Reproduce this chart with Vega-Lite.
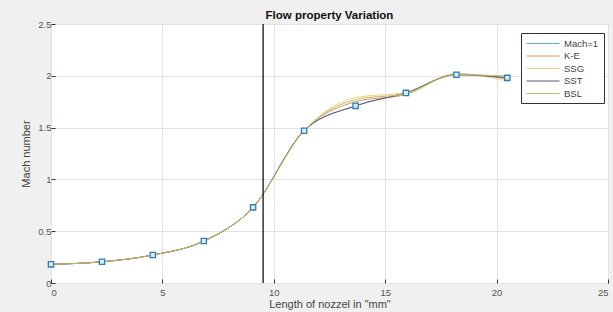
{
  "$schema": "https://vega.github.io/schema/vega-lite/v6.json",
  "width": 557,
  "height": 259,
  "autosize": {"type": "none"},
  "padding": {"left": 51, "top": 24, "right": 5, "bottom": 29},
  "background": "#f0f0f0",
  "config": {
    "font": "Liberation Sans",
    "view": {"fill": "white", "stroke": "#333333", "strokeWidth": 1},
    "axis": {
      "grid": true, "gridColor": "#e3e3e3", "gridWidth": 1,
      "domain": false, "ticks": true, "tickSize": -4, "tickColor": "#333333",
      "labelFont": "Liberation Sans", "labelFontSize": 9.5, "labelColor": "#555555", "labelPadding": 4,
      "titleFont": "Liberation Sans", "titleFontSize": 11, "titleFontWeight": "normal", "titleColor": "#444444"
    },
    "title": {"font": "Liberation Sans", "fontSize": 11.5, "fontWeight": "bold", "color": "#111111", "offset": -2}
  },
  "title": {"text": "Flow property Variation", "anchor": "middle"},
  "datasets": {
    "curves": [
      {"series": "Mach=1", "x": 0, "y": 0.18},
      {"series": "Mach=1", "x": 2.29, "y": 0.205},
      {"series": "Mach=1", "x": 4.57, "y": 0.27},
      {"series": "Mach=1", "x": 6.86, "y": 0.405},
      {"series": "Mach=1", "x": 9.07, "y": 0.73},
      {"series": "Mach=1", "x": 11.36, "y": 1.47},
      {"series": "Mach=1", "x": 13.67, "y": 1.71},
      {"series": "Mach=1", "x": 15.93, "y": 1.835},
      {"series": "Mach=1", "x": 18.2, "y": 2.01},
      {"series": "Mach=1", "x": 20.48, "y": 1.98},
      {"series": "K-E", "x": 0, "y": 0.18},
      {"series": "K-E", "x": 2.29, "y": 0.205},
      {"series": "K-E", "x": 4.57, "y": 0.27},
      {"series": "K-E", "x": 6.86, "y": 0.405},
      {"series": "K-E", "x": 9.07, "y": 0.73},
      {"series": "K-E", "x": 11.36, "y": 1.47},
      {"series": "K-E", "x": 13.67, "y": 1.75},
      {"series": "K-E", "x": 15.93, "y": 1.82},
      {"series": "K-E", "x": 18.2, "y": 2.02},
      {"series": "K-E", "x": 20.48, "y": 1.97},
      {"series": "SSG", "x": 0, "y": 0.18},
      {"series": "SSG", "x": 2.29, "y": 0.205},
      {"series": "SSG", "x": 4.57, "y": 0.27},
      {"series": "SSG", "x": 6.86, "y": 0.405},
      {"series": "SSG", "x": 9.07, "y": 0.73},
      {"series": "SSG", "x": 11.36, "y": 1.47},
      {"series": "SSG", "x": 13.67, "y": 1.79},
      {"series": "SSG", "x": 15.93, "y": 1.84},
      {"series": "SSG", "x": 18.2, "y": 2.02},
      {"series": "SSG", "x": 20.48, "y": 1.95},
      {"series": "SST", "x": 0, "y": 0.18},
      {"series": "SST", "x": 2.29, "y": 0.205},
      {"series": "SST", "x": 4.57, "y": 0.27},
      {"series": "SST", "x": 6.86, "y": 0.405},
      {"series": "SST", "x": 9.07, "y": 0.73},
      {"series": "SST", "x": 11.36, "y": 1.47},
      {"series": "SST", "x": 13.67, "y": 1.71},
      {"series": "SST", "x": 15.93, "y": 1.835},
      {"series": "SST", "x": 18.2, "y": 2.01},
      {"series": "SST", "x": 20.48, "y": 1.98},
      {"series": "BSL", "x": 0, "y": 0.18},
      {"series": "BSL", "x": 2.29, "y": 0.205},
      {"series": "BSL", "x": 4.57, "y": 0.27},
      {"series": "BSL", "x": 6.86, "y": 0.405},
      {"series": "BSL", "x": 9.07, "y": 0.73},
      {"series": "BSL", "x": 11.36, "y": 1.47},
      {"series": "BSL", "x": 13.67, "y": 1.77},
      {"series": "BSL", "x": 15.93, "y": 1.83},
      {"series": "BSL", "x": 18.2, "y": 2.01},
      {"series": "BSL", "x": 20.48, "y": 2.0}
    ],
    "throat": [{"x": 9.52}]
  },
  "layer": [
    {
      "data": {"name": "curves"},
      "mark": {"type": "line", "strokeWidth": 1, "interpolate": "monotone"},
      "encoding": {
        "x": {"field": "x", "type": "quantitative", "scale": {"domain": [0, 25], "nice": false},
              "axis": {"values": [0, 5, 10, 15, 20, 25], "format": "~g", "labelPadding": 8, "title": "Length of nozzel in \"mm\"", "titlePadding": 2}},
        "y": {"field": "y", "type": "quantitative", "scale": {"domain": [0, 2.5], "nice": false},
              "axis": {"values": [0, 0.5, 1, 1.5, 2, 2.5], "format": "~g", "title": "Mach number", "titlePadding": 6}},
        "color": {"field": "series", "type": "nominal",
          "scale": {"domain": ["Mach=1", "K-E", "SSG", "SST", "BSL"],
                    "range": ["#5fb0c2", "#d39a6a", "#f1d27a", "#5c5a78", "#c9b86a"]},
          "legend": {"title": null, "orient": "none", "legendX": 470, "legendY": 9,
            "symbolType": "M-1,0L5.6,0", "symbolSize": 100, "symbolStrokeWidth": 1,
            "labelFontSize": 9.5, "labelColor": "#444444", "labelFont": "Liberation Sans",
            "rowPadding": 2.5, "padding": 5, "fillColor": "white", "strokeColor": "#333333", "labelOffset": 27}},
        "order": {"field": "series", "sort": "descending"}
      }
    },
    {
      "data": {"name": "curves"},
      "transform": [{"filter": "datum.series === 'Mach=1'"}],
      "mark": {"type": "point", "shape": "square", "filled": true, "fill": "#d6ecf7", "stroke": "#2f7fb5", "strokeWidth": 1.3, "size": 28, "opacity": 1},
      "encoding": {
        "x": {"field": "x", "type": "quantitative"},
        "y": {"field": "y", "type": "quantitative"}
      }
    },
    {
      "data": {"name": "throat"},
      "mark": {"type": "rule", "color": "#111111", "strokeWidth": 1.3},
      "encoding": {"x": {"field": "x", "type": "quantitative"}}
    }
  ]
}
